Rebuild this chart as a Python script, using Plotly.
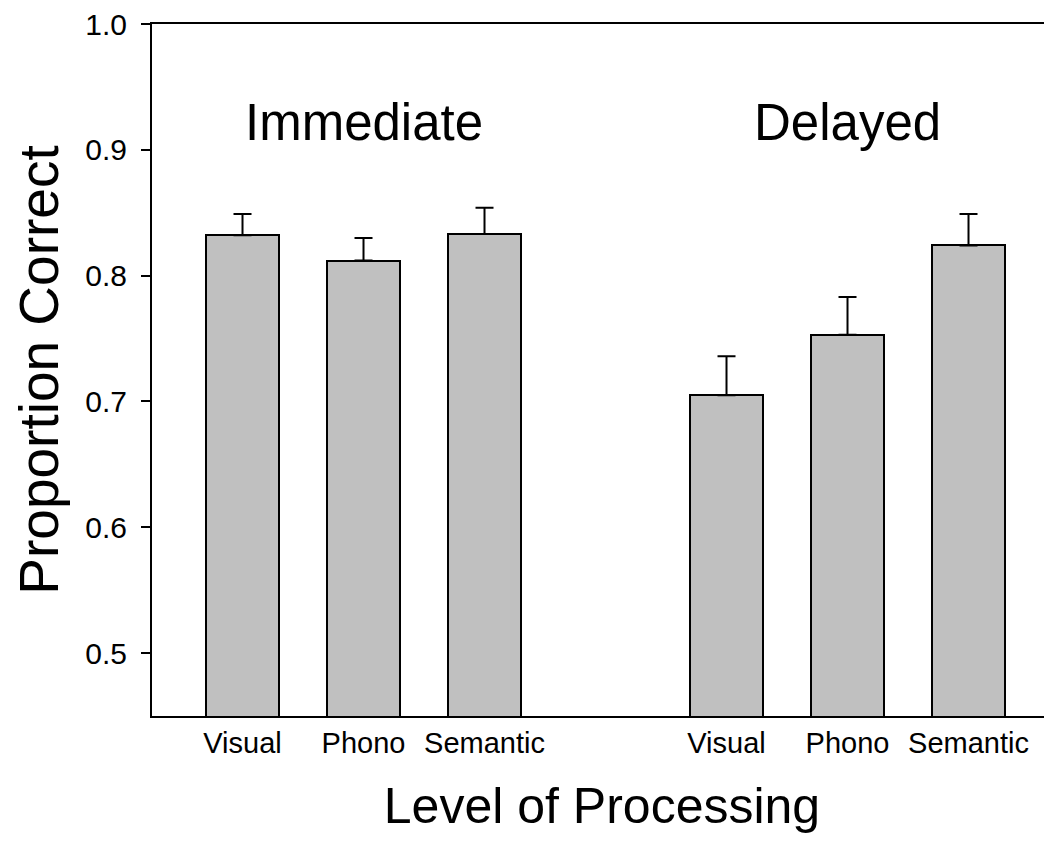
import plotly.graph_objects as go

conditions = ["Immediate", "Delayed"]
levels = ["Visual", "Phono", "Semantic"]
positions = [0, 1, 2, 4, 5, 6]
tick_labels = ["Visual", "Phono", "Semantic", "Visual", "Phono", "Semantic"]
proportion_correct = [0.832, 0.812, 0.833, 0.705, 0.753, 0.824]
error_upper = [0.017, 0.018, 0.021, 0.031, 0.030, 0.025]
y_ticks = [0.5, 0.6, 0.7, 0.8, 0.9, 1.0]
y_tick_text = ["0.5", "0.6", "0.7", "0.8", "0.9", "1.0"]
label_positions = [1, 5]
label_y = 0.922
y_title = "Proportion Correct"
x_title = "Level of Processing"

FONT = "Liberation Sans, Arial, Helvetica, sans-serif"

fig = go.Figure()
fig.add_trace(go.Bar(
    x=positions,
    y=proportion_correct,
    width=0.6,
    marker=dict(color="#C0C0C0", line=dict(color="black", width=2)),
    error_y=dict(type="data", array=error_upper,
                 arrayminus=[0] * len(error_upper), symmetric=False,
                 color="black", thickness=2, width=9),
    showlegend=False,
))

for cond, xp in zip(conditions, label_positions):
    fig.add_annotation(x=xp, y=label_y, text=cond, showarrow=False,
                       xref="x", yref="y", yanchor="middle",
                       font=dict(family=FONT, size=51, color="black"))

# page body has an 8px margin; figure offset accordingly
fig.update_layout(
    width=1044, height=836,
    margin=dict(l=144, r=0, t=16, b=128),
    plot_bgcolor="white", paper_bgcolor="white",
    font=dict(family=FONT, color="black"),
    bargap=0,
)
fig.update_xaxes(
    range=[-0.748, 6.69],
    tickvals=positions, ticktext=tick_labels,
    tickfont=dict(family=FONT, size=29, color="black"),
    showline=True, linecolor="black", linewidth=2, mirror=True,
    ticks="", showgrid=False, zeroline=False,
    ticklabelstandoff=0,
    ticklabeloverflow="allow",
    automargin=False,
    title=dict(text=x_title,
               font=dict(family=FONT, size=50, color="black"), standoff=30),
)
fig.update_yaxes(
    range=[0.45, 1.0],
    tickvals=y_ticks, ticktext=y_tick_text,
    tickfont=dict(family=FONT, size=30, color="black"),
    showline=True, linecolor="black", linewidth=2, mirror=False,
    ticks="outside", ticklen=9, tickwidth=2, tickcolor="black",
    showgrid=False, zeroline=False,
    ticklabelstandoff=8,
    ticklabeloverflow="allow",
    automargin=False,
    title=dict(text=y_title,
               font=dict(family=FONT, size=55, color="black"), standoff=27),
)

fig.write_html("out.html")
